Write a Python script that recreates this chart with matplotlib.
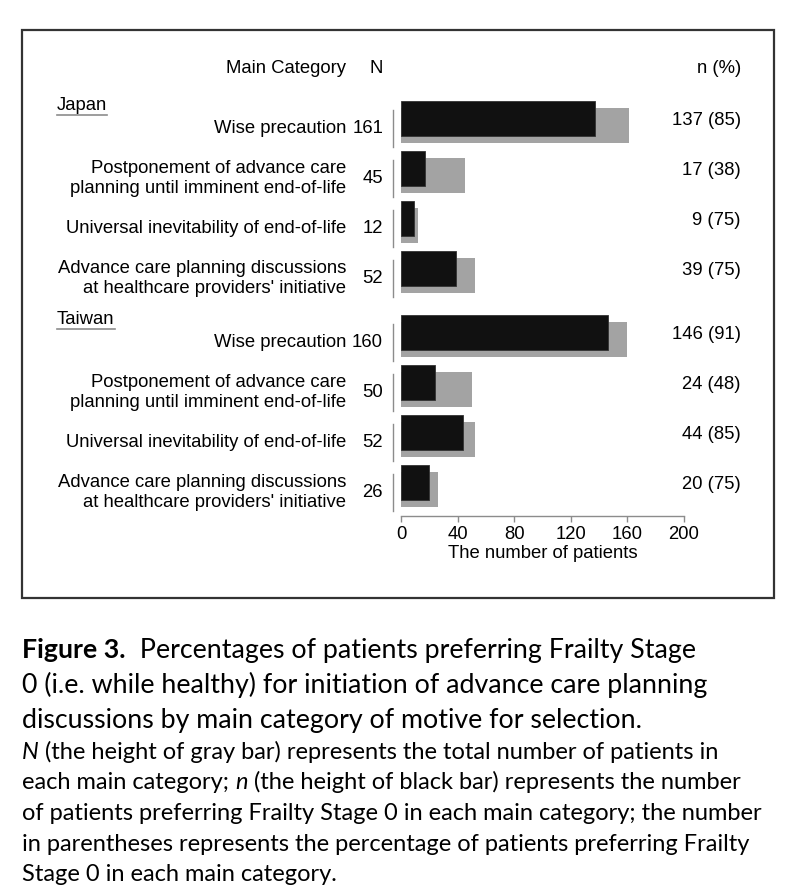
import matplotlib
matplotlib.use('Agg')
import matplotlib.pyplot as plt
import matplotlib.transforms as mtransforms
from matplotlib.patches import Rectangle

# data
countries = ['Japan', 'Taiwan']
categories = [
    'Wise precaution',
    'Postponement of advance care\nplanning until imminent end-of-life',
    'Universal inevitability of end-of-life',
    "Advance care planning discussions\nat healthcare providers' initiative",
]
N_japan = [161, 45, 12, 52]
n_japan = [137, 17, 9, 39]
pct_japan = [85, 38, 75, 75]
N_taiwan = [160, 50, 52, 26]
n_taiwan = [146, 24, 44, 20]
pct_taiwan = [91, 48, 85, 75]
xticks = [0, 40, 80, 120, 160, 200]

W, H = 788, 896
fig = plt.figure(figsize=(W / 100, H / 100), dpi=100)
fig.patch.set_facecolor('white')

ax = fig.add_axes([401 / W, 1 - 516 / H, 283 / W, 456 / H])
chart_font = 'Liberation Sans'
fs = 13.3

group_gap = 1.28
bar_h = 0.7
shift = 0.14
groups = [(N_japan, n_japan, pct_japan), (N_taiwan, n_taiwan, pct_taiwan)]

blend = mtransforms.blended_transform_factory(fig.transFigure, ax.transData)
headers = []
for g, (Ns, ns, pcts) in enumerate(groups):
    base = g * (len(categories) - 1 + group_gap)
    for i, cat in enumerate(categories):
        p = base + i
        ax.barh(p + shift, Ns[i], height=bar_h, color='#a3a3a3', zorder=1)
        ax.barh(p, ns[i], height=bar_h, color='#111111', edgecolor='#333333',
                linewidth=0.6, zorder=2)
        ax.plot([-5.7, -5.7], [p - 0.17, p + 0.57], color='#8c8c8c', lw=1.0,
                clip_on=False, zorder=1)
        ax.text(346 / W, p + 0.2, cat, transform=blend, ha='right', va='center',
                fontsize=fs, family=chart_font, linespacing=1.2)
        ax.text(383 / W, p + 0.2, str(Ns[i]), transform=blend, ha='right',
                va='center', fontsize=fs, family=chart_font)
        ax.text(741 / W, p + 0.04, f'{ns[i]} ({pcts[i]})', transform=blend,
                ha='right', va='center', fontsize=fs, family=chart_font)
    t = ax.text(57 / W, base - 0.27, countries[g], transform=blend, ha='left',
                va='center', fontsize=fs, family=chart_font)
    headers.append(t)

ax.text(346 / W, -1.0, 'Main Category', transform=blend, ha='right', va='center',
        fontsize=fs, family=chart_font)
ax.text(383 / W, -1.0, 'N', transform=blend, ha='right', va='center',
        fontsize=fs, family=chart_font)
ax.text(741 / W, -1.0, 'n (%)', transform=blend, ha='right', va='center',
        fontsize=fs, family=chart_font)

ax.set_xlim(0, 200)
ax.set_ylim(7.95, -1.17)
ax.set_xticks(xticks)
ax.set_xticklabels([str(v) for v in xticks], family=chart_font, fontsize=fs)
ax.set_yticks([])
for s in ['top', 'right', 'left']:
    ax.spines[s].set_visible(False)
ax.spines['bottom'].set_color('#8c8c8c')
ax.spines['bottom'].set_linewidth(1.0)
ax.tick_params(axis='x', colors='#8c8c8c', length=4, width=1.0, pad=3,
               labelcolor='black')
ax.set_xlabel('The number of patients', family=chart_font, fontsize=fs, labelpad=2)
ax.patch.set_alpha(0)

# frame around the chart
fig.patches.append(Rectangle((22 / W, 1 - 598 / H), 752 / W, 568 / H,
                             transform=fig.transFigure, fill=False,
                             edgecolor='#333333', linewidth=1.6))

fig.canvas.draw()
r = fig.canvas.get_renderer()
for t in headers:
    bb = t.get_window_extent(r)
    y = bb.y0 - 2
    fig.add_artist(plt.Line2D([bb.x0 / W, bb.x1 / W], [y / H, y / H],
                              transform=fig.transFigure, color='#8c8c8c', lw=1.2))

# caption
cap_font = 'Lato'
big, small = 19.3, 17


def segments(y_px, parts, size):
    # y_px is the baseline, pixels from the top
    x = 22
    for txt, style in parts:
        weight = 'bold' if style == 'b' else 'normal'
        fstyle = 'italic' if style == 'i' else 'normal'
        t = fig.text(x / W, 1 - y_px / H, txt, ha='left', va='baseline',
                     fontsize=size, family=cap_font, weight=weight, style=fstyle)
        fig.canvas.draw()
        x = t.get_window_extent(fig.canvas.get_renderer()).x1


segments(658, [('Figure 3.', 'b'), ('  Percentages of patients preferring Frailty Stage', 'r')], big)
segments(693, [('0 (i.e. while healthy) for initiation of advance care planning', 'r')], big)
segments(728, [('discussions by main category of motive for selection.', 'r')], big)
segments(759, [('N', 'i'), (' (the height of gray bar) represents the total number of patients in', 'r')], small)
segments(789, [('each main category; ', 'r'), ('n', 'i'),
               (' (the height of black bar) represents the number', 'r')], small)
segments(820, [('of patients preferring Frailty Stage 0 in each main category; the number', 'r')], small)
segments(851, [('in parentheses represents the percentage of patients preferring Frailty', 'r')], small)
segments(881, [('Stage 0 in each main category.', 'r')], small)

fig.savefig('out.png', dpi=100)
